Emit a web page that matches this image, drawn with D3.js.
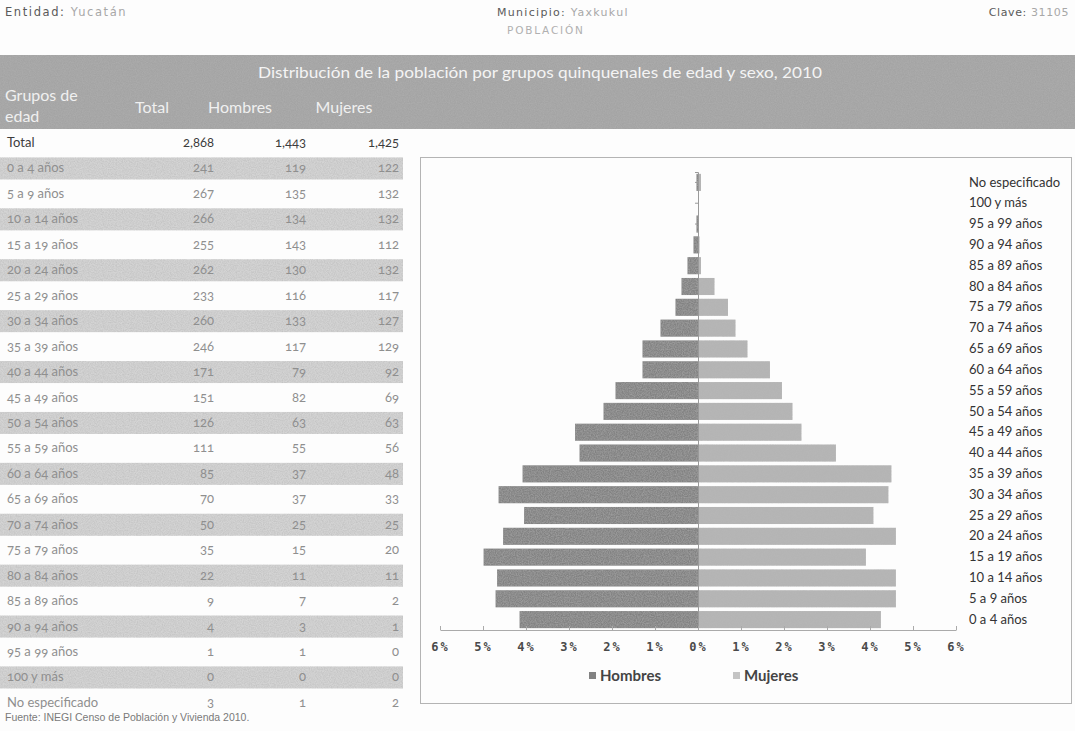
<!DOCTYPE html>
<html>
<head>
<meta charset="utf-8">
<script src="https://cdn.jsdelivr.net/npm/d3@7"></script>
<style>
  body { margin: 0; background: #fff; }
  svg { display: block; }
</style>
</head>
<body>
<div id="chart"></div>
<script>
var grupos = ["0 a 4 años", "5 a 9 años", "10 a 14 años", "15 a 19 años", "20 a 24 años",
  "25 a 29 años", "30 a 34 años", "35 a 39 años", "40 a 44 años", "45 a 49 años",
  "50 a 54 años", "55 a 59 años", "60 a 64 años", "65 a 69 años", "70 a 74 años",
  "75 a 79 años", "80 a 84 años", "85 a 89 años", "90 a 94 años", "95 a 99 años",
  "100 y más", "No especificado"];
var total_pob = [241, 267, 266, 255, 262, 233, 260, 246, 171, 151, 126, 111, 85, 70, 50, 35, 22, 9, 4, 1, 0, 3];
var hombres   = [119, 135, 134, 143, 130, 116, 133, 117, 79, 82, 63, 55, 37, 37, 25, 15, 11, 7, 3, 1, 0, 1];
var mujeres   = [122, 132, 132, 112, 132, 117, 127, 129, 92, 69, 63, 56, 48, 33, 25, 20, 11, 2, 1, 0, 0, 2];
var tick_pct  = [-6, -5, -4, -3, -2, -1, 0, 1, 2, 3, 4, 5, 6];

var width = 1075, height = 731;
var gran_total = d3.sum(total_pob);
var fmt = d3.format(",");

var svg = d3.select("#chart").append("svg")
  .attr("width", width)
  .attr("height", height);

// scanned-paper grain
var defs = svg.append("defs");
var grain = defs.append("filter").attr("id", "grain")
  .attr("x", 0).attr("y", 0).attr("width", 1).attr("height", 1);
grain.append("feTurbulence").attr("type", "fractalNoise")
  .attr("baseFrequency", 0.85).attr("numOctaves", 2).attr("seed", 3).attr("result", "n");
grain.append("feColorMatrix").attr("in", "n").attr("type", "matrix")
  .attr("values", "0 0 0 0 0.45  0 0 0 0 0.45  0 0 0 0 0.45  0 0 0 0.9 -0.25")
  .attr("result", "g");
grain.append("feComposite").attr("in", "g").attr("in2", "SourceGraphic")
  .attr("operator", "in").attr("result", "gi");
var merge = grain.append("feMerge");
merge.append("feMergeNode").attr("in", "SourceGraphic");
merge.append("feMergeNode").attr("in", "gi");

svg.append("rect").attr("width", width).attr("height", height).attr("fill", "#fdfdfd");

// page header
var top_font = "'DejaVu Sans', Verdana, sans-serif";
var t1 = svg.append("text").attr("x", 5).attr("y", 16)
  .style("font-family", top_font).style("font-size", "11.5px").style("letter-spacing", "1.6px");
t1.append("tspan").attr("fill", "#5a5a5a").text("Entidad:");
t1.append("tspan").attr("fill", "#a8a8a8").text(" Yucatán");

var t2 = svg.append("text").attr("x", 497).attr("y", 16)
  .style("font-family", top_font).style("font-size", "11px").style("letter-spacing", "1.3px");
t2.append("tspan").attr("fill", "#5a5a5a").text("Municipio:");
t2.append("tspan").attr("fill", "#a8a8a8").text(" Yaxkukul");

var t3 = svg.append("text").attr("x", 1069).attr("y", 16).attr("text-anchor", "end")
  .style("font-family", top_font).style("font-size", "11px").style("letter-spacing", "0.6px");
t3.append("tspan").attr("fill", "#5a5a5a").text("Clave:");
t3.append("tspan").attr("fill", "#a8a8a8").text(" 31105");

svg.append("text").attr("x", 507).attr("y", 34)
  .attr("fill", "#b0b0b0")
  .style("font-family", top_font).style("font-size", "10.5px").style("letter-spacing", "1.8px")
  .text("POBLACIÓN");

// grey header band
svg.append("rect")
  .attr("x", 0).attr("y", 55).attr("width", width).attr("height", 74)
  .attr("fill", "#a4a4a4").attr("filter", "url(#grain)");

var band_font = "Lato, 'Open Sans', sans-serif";
svg.append("text").attr("x", 258).attr("y", 78)
  .attr("fill", "#f4f4f4")
  .attr("textLength", 564).attr("lengthAdjust", "spacingAndGlyphs")
  .style("font-family", band_font).style("font-size", "16px")
  .text("Distribución de la población por grupos quinquenales de edad y sexo, 2010");

var encabezados = [
  {t: "Grupos de", x: 5, y: 101, a: "start"},
  {t: "edad", x: 5, y: 122, a: "start"},
  {t: "Total", x: 152, y: 113, a: "middle"},
  {t: "Hombres", x: 240, y: 113, a: "middle"},
  {t: "Mujeres", x: 344, y: 113, a: "middle"}
];
svg.selectAll(".enc").data(encabezados).enter().append("text")
  .attr("class", "enc")
  .attr("x", function (d) { return d.x; })
  .attr("y", function (d) { return d.y; })
  .attr("text-anchor", function (d) { return d.a; })
  .attr("fill", "#f0f0f0")
  .style("font-family", band_font).style("font-size", "16px")
  .text(function (d) { return d.t; });

// table
var row_h = 25.45, row0 = 143;
var col_total = 214, col_h = 306, col_m = 399;
var tabla = svg.append("g")
  .style("font-family", band_font).style("font-size", "13px")
  .style("font-variant-numeric", "oldstyle-nums");

var fila_total = tabla.append("g").attr("fill", "#3c3c3c");
fila_total.append("text").attr("x", 7).attr("y", row0 + 4).text("Total");
fila_total.append("text").attr("x", col_total).attr("y", row0 + 4).attr("text-anchor", "end").text(fmt(gran_total));
fila_total.append("text").attr("x", col_h).attr("y", row0 + 4).attr("text-anchor", "end").text(fmt(d3.sum(hombres)));
fila_total.append("text").attr("x", col_m).attr("y", row0 + 4).attr("text-anchor", "end").text(fmt(d3.sum(mujeres)));

var filas = tabla.selectAll(".fila").data(grupos).enter().append("g")
  .attr("class", "fila")
  .attr("transform", function (d, i) { return "translate(0," + (row0 + (i + 1)*row_h) + ")"; });

filas.filter(function (d, i) { return i % 2 === 0; })
  .append("rect")
  .attr("x", 0).attr("y", -11).attr("width", 403).attr("height", 22)
  .attr("fill", "#d4d4d4").attr("filter", "url(#grain)");

filas.append("text").attr("x", 7).attr("y", 4).attr("fill", "#8f8f8f")
  .text(function (d) { return d; });
filas.append("text").attr("x", col_total).attr("y", 4).attr("text-anchor", "end").attr("fill", "#8f8f8f")
  .text(function (d, i) { return fmt(total_pob[i]); });
filas.append("text").attr("x", col_h).attr("y", 4).attr("text-anchor", "end").attr("fill", "#8f8f8f")
  .text(function (d, i) { return fmt(hombres[i]); });
filas.append("text").attr("x", col_m).attr("y", 4).attr("text-anchor", "end").attr("fill", "#8f8f8f")
  .text(function (d, i) { return fmt(mujeres[i]); });

svg.append("text").attr("x", 5).attr("y", 721)
  .attr("fill", "#7a7a7a")
  .style("font-family", "'Liberation Sans', Arial, sans-serif").style("font-size", "10.5px")
  .text("Fuente: INEGI Censo de Población y Vivienda 2010.");

// pyramid chart
svg.append("rect")
  .attr("x", 420.5).attr("y", 157.5).attr("width", 651).attr("height", 546)
  .attr("fill", "none").attr("stroke", "#b4b4b4");

var x = d3.scaleLinear().domain([-6, 6]).range([440, 956]);
var y = d3.scaleBand()
  .domain(grupos.slice().reverse())
  .range([172, 630])
  .paddingInner(0.18)
  .paddingOuter(0.09);

var datos = grupos.map(function (g, i) {
  return {grupo: g, h: hombres[i]/gran_total*100, m: mujeres[i]/gran_total*100};
});

var barras = svg.append("g").attr("filter", "url(#grain)");
barras.selectAll(".h").data(datos).enter().append("rect")
  .attr("class", "h")
  .attr("x", function (d) { return x(-d.h); })
  .attr("y", function (d) { return y(d.grupo); })
  .attr("width", function (d) { return x(0) - x(-d.h); })
  .attr("height", y.bandwidth())
  .attr("fill", "#828282");
barras.selectAll(".m").data(datos).enter().append("rect")
  .attr("class", "m")
  .attr("x", x(0))
  .attr("y", function (d) { return y(d.grupo); })
  .attr("width", function (d) { return x(d.m) - x(0); })
  .attr("height", y.bandwidth())
  .attr("fill", "#b6b6b6");

// vertical zero axis with small ticks
var eje_y = svg.append("g")
  .attr("transform", "translate(" + x(0) + ",0)")
  .call(d3.axisLeft(y).tickSize(3).tickFormat(""));
eje_y.select(".domain").attr("stroke", "#9a9a9a");
eje_y.selectAll(".tick line").attr("stroke", "#9a9a9a");

var eje_x = svg.append("g")
  .attr("transform", "translate(0,630)")
  .call(d3.axisBottom(x)
    .tickValues(tick_pct)
    .tickSizeInner(-4).tickSizeOuter(0)
    .tickPadding(12)
    .tickFormat(function (d) { return Math.abs(d) + "%"; }));
eje_x.select(".domain").attr("stroke", "#aaaaaa");
eje_x.selectAll(".tick line").attr("stroke", "#aaaaaa");
eje_x.selectAll("text")
  .attr("fill", "#4a4a4a")
  .style("font-family", "'DejaVu Sans Mono', monospace")
  .style("font-size", "12px")
  .style("font-weight", "bold")
  .style("letter-spacing", "2px");

// category labels on the right
var eje_cat = svg.append("g")
  .attr("transform", "translate(966,0)")
  .call(d3.axisRight(y).tickSize(0).tickPadding(3));
eje_cat.select(".domain").remove();
eje_cat.selectAll("text")
  .attr("fill", "#333")
  .style("font-family", band_font)
  .style("font-size", "13px");

// legend
var leyenda = [
  {t: "Hombres", c: "#828282", x: 589},
  {t: "Mujeres", c: "#c4c4c4", x: 733}
];
var ley = svg.selectAll(".ley").data(leyenda).enter().append("g")
  .attr("class", "ley")
  .attr("transform", function (d) { return "translate(" + d.x + ",676)"; });
ley.append("rect").attr("x", 0).attr("y", -4).attr("width", 7).attr("height", 7)
  .attr("fill", function (d) { return d.c; });
ley.append("text").attr("x", 11).attr("y", 5)
  .attr("fill", "#444")
  .style("font-family", band_font).style("font-size", "15px").style("font-weight", "bold")
  .text(function (d) { return d.t; });
</script>
</body>
</html>
